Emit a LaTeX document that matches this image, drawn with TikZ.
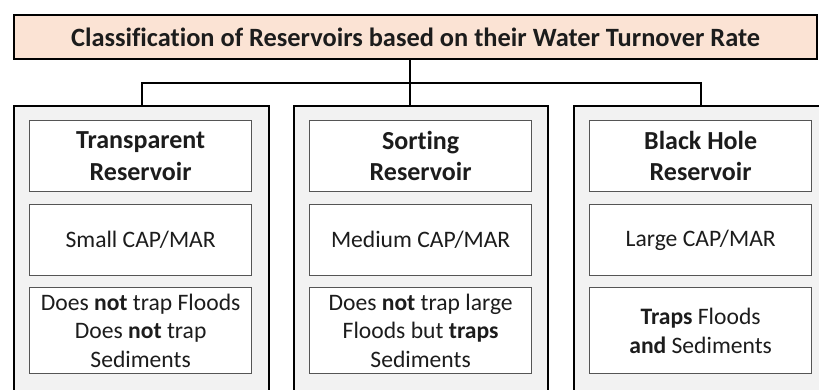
\documentclass[tikz,border=0pt]{standalone}
\usepackage{fontspec}
\setmainfont{Carlito}[Ligatures=NoCommon]
\definecolor{peach}{HTML}{FBE3D4}
\definecolor{colgray}{HTML}{F2F2F2}
\definecolor{inborder}{HTML}{555555}
\definecolor{txt}{HTML}{1C1C1C}
\begin{document}
\begin{tikzpicture}[x=1pt,y=-1pt,
  titlebox/.style={draw=black, line width=2.2pt, fill=peach, anchor=north west, inner sep=0pt,
    font=\fontsize{26.4}{30}\selectfont\bfseries, text=txt},
  colbox/.style={draw=black, line width=2.4pt, fill=colgray, anchor=north west, inner sep=0pt},
  inbox/.style={draw=inborder, line width=1.3pt, fill=white, anchor=north west, inner sep=0pt,
    align=center, text=txt, minimum width=222pt, font=\fontsize{23.6}{28.5}\selectfont},
  headtxt/.style={font=\fontsize{26}{31.5}\selectfont\bfseries},
  conn/.style={draw=black, line width=1.8pt}
]
\useasboundingbox (0,0) rectangle (819,389);
\clip (0,0) rectangle (819,389);
\fill[white] (0,0) rectangle (819,389);

\node[titlebox, minimum width=803pt, minimum height=44pt] (title) at (13,14)
  {Classification of Reservoirs based on their Water Turnover Rate};

\node[colbox, minimum width=255pt, minimum height=320pt] (col1) at (13,105) {};
\node[colbox, minimum width=254pt, minimum height=320pt] (col2) at (293,105) {};
\node[colbox, minimum width=254pt, minimum height=320pt] (col3) at (573,105) {};

\coordinate (hub) at (410,83);
\draw[conn] (title.south -| hub) -- (hub);
\draw[conn] (col1.north) |- (hub);
\draw[conn] (hub) -| (col3.north);
\draw[conn] (hub) -- (hub |- col2.north);

% column 1
\node[inbox, headtxt, minimum height=71pt] (t1) at (29,120) {Transparent\\Reservoir};
\node[inbox, minimum height=71pt] (c1) at (29,204) {Small CAP/MAR};
\node[inbox, minimum height=86pt] (d1) at (29,287)
  {Does \textbf{not} trap Floods\\Does \textbf{not} trap\\Sediments};

% column 2
\node[inbox, headtxt, minimum height=71pt] (t2) at (309,120) {Sorting\\Reservoir};
\node[inbox, minimum height=71pt] (c2) at (309,204) {Medium CAP/MAR};
\node[inbox, minimum height=86pt] (d2) at (309,287)
  {Does \textbf{not} trap large\\Floods but \textbf{traps}\\Sediments};

% column 3
\node[inbox, headtxt, minimum height=71pt] (t3) at (589,120) {Black Hole\\Reservoir};
\node[inbox, minimum height=71pt] (c3) at (589,204) {Large CAP/MAR};
\node[inbox, minimum height=86pt] (d3) at (589,287)
  {\textbf{Traps} Floods\\\textbf{and} Sediments};
\end{tikzpicture}
\end{document}
